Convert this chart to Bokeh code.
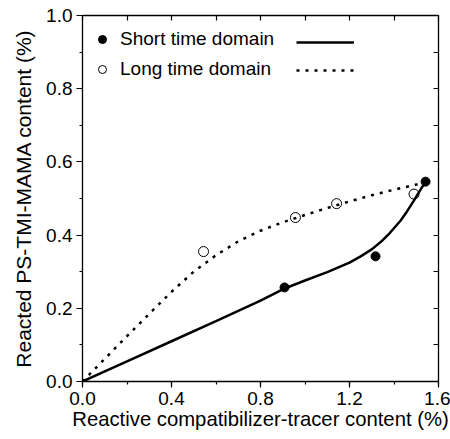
from bokeh.plotting import figure
from bokeh.models import (LinearAxis, SingleIntervalTicker, PrintfTickFormatter,
                          Range1d, Legend, LegendItem)
from bokeh.embed import file_html
from bokeh.resources import INLINE

# ---- data ----
short_x = [0.908, 1.317, 1.542]
short_y = [0.257, 0.342, 0.546]
long_x = [0.544, 0.957, 1.142, 1.490]
long_y = [0.355, 0.448, 0.486, 0.512]

short_fit_x = [0, 0.2, 0.4, 0.6, 0.8, 0.9, 1.0, 1.1, 1.2, 1.25, 1.3, 1.34, 1.38, 1.43, 1.46, 1.49, 1.52, 1.542]
short_fit_y = [0, 0.055, 0.11, 0.165, 0.221, 0.252, 0.276, 0.299, 0.325, 0.342, 0.361, 0.381, 0.405, 0.44, 0.466, 0.495, 0.525, 0.546]
long_fit_x = [0, 0.1, 0.2, 0.3, 0.4, 0.5, 0.6, 0.7, 0.8, 0.9, 1.0, 1.1, 1.2, 1.3, 1.4, 1.5, 1.542]
long_fit_y = [0, 0.062, 0.124, 0.185, 0.245, 0.3, 0.345, 0.383, 0.412, 0.435, 0.455, 0.474, 0.492, 0.509, 0.524, 0.538, 0.546]

labels = ["Short time domain", "Long time domain"]
x_title = "Reactive compatibilizer-tracer content (%)"
y_title = "Reacted PS-TMI-MAMA content (%)"

FONT = "Liberation Sans"

p = figure(width=450, height=439, output_backend="svg", toolbar_location=None,
           x_range=Range1d(0, 1.6), y_range=Range1d(0, 1.0),
           x_axis_location=None, y_axis_location=None,
           min_border_left=82, min_border_right=12, min_border_top=15, min_border_bottom=58)
p.outline_line_color = None
p.xgrid.visible = False
p.ygrid.visible = False
p.background_fill_color = "white"
p.border_fill_color = "white"

def style_axis(ax):
    ax.axis_line_color = "black"
    ax.axis_line_width = 1.3
    ax.major_tick_line_color = "black"
    ax.minor_tick_line_color = "black"
    ax.major_tick_line_width = 1.2
    ax.minor_tick_line_width = 1.2
    ax.major_label_text_font = FONT
    ax.major_label_text_color = "black"
    ax.axis_label_text_font = FONT
    ax.axis_label_text_font_style = "normal"
    ax.axis_label_text_color = "black"

xb = LinearAxis(ticker=SingleIntervalTicker(interval=0.4, num_minor_ticks=2),
                formatter=PrintfTickFormatter(format="%.1f"), axis_label=x_title)
style_axis(xb)
xb.major_tick_out = 6; xb.major_tick_in = 0
xb.minor_tick_out = 3; xb.minor_tick_in = 0
xb.major_label_text_font_size = "19px"
xb.axis_label_text_font_size = "20.3px"
xb.major_label_standoff = 4
xb.axis_label_standoff = 0
p.add_layout(xb, "below")

yl = LinearAxis(ticker=SingleIntervalTicker(interval=0.2, num_minor_ticks=2),
                formatter=PrintfTickFormatter(format="%.1f"), axis_label=y_title)
style_axis(yl)
yl.major_tick_out = 6; yl.major_tick_in = 0
yl.minor_tick_out = 3; yl.minor_tick_in = 0
yl.major_label_text_font_size = "19px"
yl.axis_label_text_font_size = "21px"
yl.major_label_standoff = 4
yl.axis_label_standoff = 8
p.add_layout(yl, "left")

xt = LinearAxis(ticker=SingleIntervalTicker(interval=0.2, num_minor_ticks=0))
style_axis(xt)
xt.major_tick_out = 0; xt.major_tick_in = 5
xt.major_label_text_font_size = "0px"
xt.major_label_standoff = 0
p.add_layout(xt, "above")

yr = LinearAxis(ticker=SingleIntervalTicker(interval=0.1, num_minor_ticks=0))
style_axis(yr)
yr.major_tick_out = 0; yr.major_tick_in = 5
yr.major_label_text_font_size = "0px"
yr.major_label_standoff = 0
p.add_layout(yr, "right")

l_short = p.line(short_fit_x, short_fit_y, line_color="black", line_width=2.5)
l_long = p.line(long_fit_x, long_fit_y, line_color="black", line_width=2.5, line_dash="3 6")
s_short = p.scatter(short_x, short_y, marker="circle", size=9, fill_color="black", line_color="black")
s_long = p.scatter(long_x, long_y, marker="circle", size=10, fill_color="white", fill_alpha=0.0,
                   line_color="black", line_width=1)

# legend: top-left corner 17px below frame top; (x, y) is the legend's bottom-left in frame px
LEG_Y = 366 - 17 - 48
leg1 = Legend(items=[LegendItem(label=labels[0], renderers=[s_short]),
                     LegendItem(label=labels[1], renderers=[s_long])],
              location=(10, LEG_Y), padding=0, margin=0, spacing=8,
              glyph_width=20, glyph_height=20, label_height=20, label_standoff=8,
              label_text_font=FONT, label_text_font_size="19px", label_text_color="black",
              border_line_color=None, background_fill_alpha=0)
leg2 = Legend(items=[LegendItem(label=" ", renderers=[l_short]),
                     LegendItem(label=" ", renderers=[l_long])],
              location=(214, LEG_Y), padding=0, margin=0, spacing=8,
              glyph_width=58, glyph_height=20, label_height=20, label_standoff=0,
              label_width=1, label_text_font_size="1px",
              border_line_color=None, background_fill_alpha=0)
p.add_layout(leg1)
p.add_layout(leg2)

open("out.html", "w").write(file_html(p, INLINE))
